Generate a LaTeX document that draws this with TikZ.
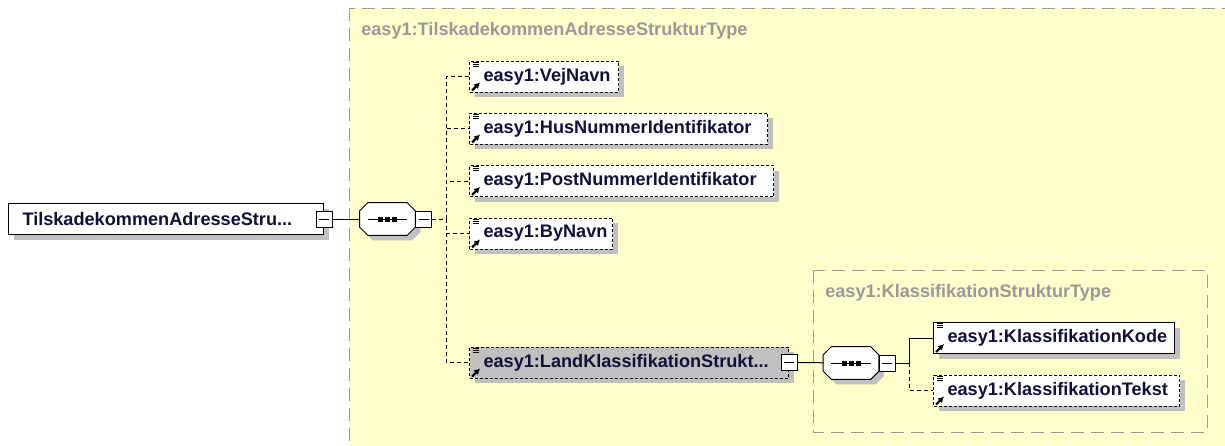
\documentclass[tikz,border=0pt]{standalone}
\usepackage{fontspec}
\setmainfont{Liberation Sans}
\usepackage{tikz}
\usetikzlibrary{calc}
\usetikzlibrary{arrows.meta,shadows}

\hyphenpenalty=10000
\exhyphenpenalty=10000

\definecolor{typeyellow}{HTML}{FFFFCC}
\definecolor{typegray}{HTML}{999999}
\definecolor{shadowgray}{HTML}{C0C0C0}
\definecolor{textnavy}{HTML}{10103A}

\tikzset{
  schemafont/.style={font=\fontsize{13.6}{16}\selectfont\bfseries},
  elem/.style={rectangle, draw=black, fill=white, line width=0.75pt,
    dash pattern=on 2.25pt off 1.5pt, minimum height=23.25pt,
    inner xsep=10.5pt, inner ysep=0pt, align=left, anchor=west,
    text=textnavy, schemafont,
    drop shadow={shadow xshift=3.75pt, shadow yshift=-3.75pt, fill=shadowgray, opacity=1}},
  required/.style={solid},
  collapse/.style={rectangle, draw=black, fill=white, solid, line width=0.75pt,
    minimum size=12pt, inner sep=0pt,
    path picture={\draw[line width=0.75pt] ([xshift=2.25pt]path picture bounding box.west)
      -- ([xshift=-2.25pt]path picture bounding box.east);}},
  seqbox/.style={rectangle, minimum width=41.25pt, minimum height=24pt, inner sep=0pt},
  typebox/.style={draw=typegray, fill=typeyellow, line width=0.75pt, dash pattern=on 10pt off 5pt},
  typetitle/.style={anchor=base west, inner sep=0pt, text=typegray, schemafont},
  conn/.style={draw=black, line width=0.75pt},
  optional/.style={dash pattern=on 3pt off 2.25pt},
  icon/.style={black, line width=0.75pt},
  iconarrow/.style={black, line width=1.6pt, -{Latex[length=4.5pt,width=5pt]}}
}

% icons in the corner of an element box
\newcommand{\elemicon}[1]{%
  \foreach \dy in {1.5,3.5,5.5}
    \draw[icon] ($(#1.north west)+(3.5,\dy)$) -- ++(6.5,0);
  \draw[iconarrow] ($(#1.south west)+(3,-2)$) -- ++(8,-8);
}

% octagon of a sequence compositor
\newcommand{\seqicon}[1]{%
  \fill[shadowgray] ($(#1.north west)+(13,5)$) -- ($(#1.north east)+(-3,5)$)
    -- ($(#1.north east)+(5,13)$) -- ($(#1.south east)+(5,-3)$)
    -- ($(#1.south east)+(-3,5)$) -- ($(#1.south west)+(13,5)$)
    -- ($(#1.south west)+(5,-3)$) -- ($(#1.north west)+(5,13)$) -- cycle;
  \filldraw[conn, fill=white] ($(#1.north west)+(8,0)$) -- ($(#1.north east)+(-8,0)$)
    -- ($(#1.north east)+(0,8)$) -- ($(#1.south east)+(0,-8)$)
    -- ($(#1.south east)+(-8,0)$) -- ($(#1.south west)+(8,0)$)
    -- ($(#1.south west)+(0,-8)$) -- ($(#1.north west)+(0,8)$) -- cycle;
  \draw[conn] ($(#1.west)+(8,0)$) -- ($(#1.east)+(-8,0)$);
  \foreach \dx in {-7,0,7}
    \fill ($(#1.center)+(\dx,0)+(-2.5,-2.5)$) rectangle ++(5,5);
}

\begin{document}
\begin{tikzpicture}[x=0.75pt,y=-0.75pt]
\useasboundingbox (0,0) rectangle (1225,446);

% Outer complex type
\draw[typebox] (349,8) rectangle (1260,470);
\node[typetitle] (adrtitle) at (361,35) {easy1:TilskadekommenAdresseStrukturType};

% Root element and sequence
\node[elem, required, text width=215.25pt] (root) at (8,219) {TilskadekommenAdresseStru...};
\node[collapse] (rootminus) at (root.east) {};
\node[seqbox] (seq) at (387.5,219) {};
\seqicon{seq}
\node[collapse, anchor=west] (seqminus) at (seq.east) {};
\coordinate (fork) at (446,219);
\draw[conn] (rootminus) -- (seq);
\draw[conn, optional] (seqminus) -- (fork);

% Child elements
\node[elem, text width=90.75pt] (vejnavn) at (469,76.5) {easy1:VejNavn};
\node[elem, text width=202.5pt] (husnummer) at (469,128.5) {easy1:HusNummerIdentifikator};
\node[elem, text width=207pt] (postnummer) at (469,181) {easy1:PostNummerIdentifikator};
\node[elem, text width=86.25pt] (bynavn) at (469,233.5) {easy1:ByNavn};
\node[elem, fill=shadowgray, text width=218.25pt] (landklass) at (469,362.5) {easy1:LandKlassifikationStrukt...};
\foreach \n in {vejnavn,husnummer,postnummer,bynavn,landklass}
  \draw[conn, optional] (fork) |- (\n);
\foreach \n in {vejnavn,husnummer,postnummer,bynavn,landklass}
  {\elemicon{\n}}

% Inner complex type
\draw[typebox] (813,270) rectangle (1207,432);
\node[typetitle] (klasstitle) at (825,297) {easy1:KlassifikationStrukturType};
\node[collapse] (landminus) at (landklass.east) {};
\node[seqbox] (seqklass) at (851,363) {};
\seqicon{seqklass}
\node[collapse, anchor=west] (seqklassminus) at (seqklass.east) {};
\coordinate (forkklass) at (909,363);
\draw[conn] (landminus) -- (seqklass);

\node[elem, required, text width=159.75pt] (kode) at (933,338) {easy1:KlassifikationKode};
\node[elem, text width=163.5pt] (tekst) at (933,390.5) {easy1:KlassifikationTekst};
\draw[conn] (seqklassminus) -- (forkklass) |- (kode);
\draw[conn, optional] (forkklass) |- (tekst);
\elemicon{kode}
\elemicon{tekst}
\end{tikzpicture}
\end{document}
